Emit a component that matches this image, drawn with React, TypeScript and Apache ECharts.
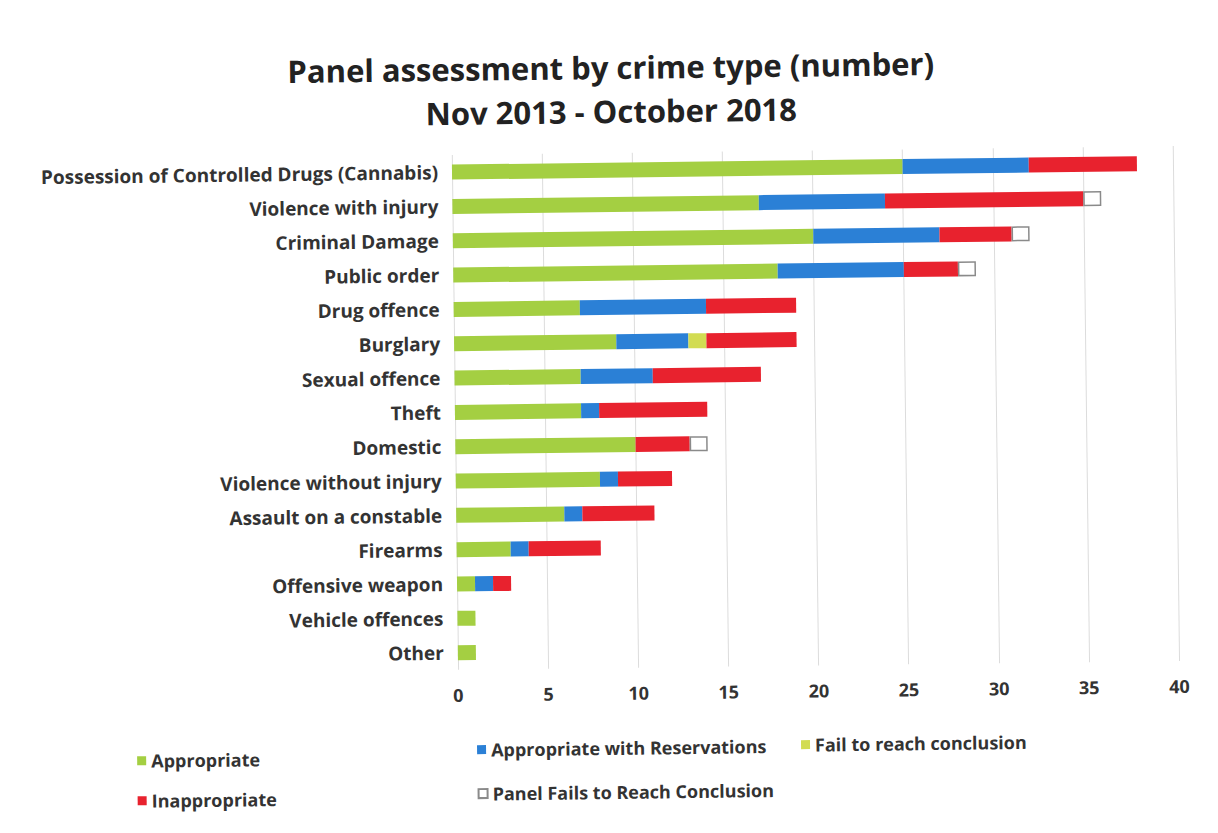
import React, { useEffect, useRef } from "react";
import * as echarts from "echarts";

const categories = [
  "Possession of Controlled Drugs (Cannabis)",
  "Violence with injury",
  "Criminal Damage",
  "Public order",
  "Drug offence",
  "Burglary",
  "Sexual offence",
  "Theft",
  "Domestic",
  "Violence without injury",
  "Assault on a constable",
  "Firearms",
  "Offensive weapon",
  "Vehicle offences",
  "Other",
];

const appropriate = [25, 17, 20, 18, 7, 9, 7, 7, 10, 8, 6, 3, 1, 1, 1];
const withReservations = [7, 7, 7, 7, 7, 4, 4, 1, 0, 1, 1, 1, 1, 0, 0];
const failToReach = [0, 0, 0, 0, 0, 1, 0, 0, 0, 0, 0, 0, 0, 0, 0];
const inappropriate = [6, 11, 4, 3, 5, 5, 6, 6, 3, 3, 4, 4, 1, 0, 0];
const panelFails = [0, 1, 1, 1, 0, 0, 0, 0, 1, 0, 0, 0, 0, 0, 0];

const xTicks = [0, 5, 10, 15, 20, 25, 30, 35, 40];

const FONT = "'Open Sans', 'Noto Sans', sans-serif";

export default function App() {
  const ref = useRef<HTMLDivElement>(null);
  useEffect(() => {
    document.body.style.margin = "0";
    const chart = echarts.init(ref.current!, null, { renderer: "svg" });
    const mk = (name: string, data: number[], color: string, border?: string) => ({
      name,
      type: "bar",
      stack: "total",
      barWidth: 15,
      data: data.map((v) => (v === 0 ? null : v)),
      itemStyle: border
        ? { color, borderColor: border, borderWidth: 1.5 }
        : { color },
    });
    const legendText = { fontFamily: FONT, fontWeight: "bold", fontSize: 18, color: "#333" };
    const legendBase = {
      orient: "horizontal",
      itemWidth: 9,
      itemHeight: 9,
      itemGap: 6,
      textStyle: legendText,
      icon: "rect",
    };
    chart.setOption({
      animation: false,
      backgroundColor: "#ffffff",
      title: {
        text: "Panel assessment by crime type (number)\nNov 2013 - October 2018",
        left: 610,
        textAlign: "center",
        top: 40,
        textStyle: {
          fontFamily: FONT,
          fontWeight: "bold",
          fontSize: 31,
          lineHeight: 44,
          color: "#222",
        },
      },
      legend: [
        { ...legendBase, left: 128, top: 741, data: ["Appropriate"] },
        { ...legendBase, left: 128, top: 781, data: ["Inappropriate"] },
        { ...legendBase, left: 468, top: 734, data: ["Appropriate with Reservations"] },
        { ...legendBase, left: 468, top: 778, data: ["Panel Fails to Reach Conclusion"] },
        { ...legendBase, left: 792, top: 733, data: ["Fail to reach conclusion"] },
      ],
      grid: { left: 455, right: 42, top: 153, bottom: 165, containLabel: false },
      xAxis: {
        type: "value",
        min: 0,
        max: 40,
        interval: 5,
        axisLine: { show: false },
        axisTick: { show: false },
        splitLine: { show: true, lineStyle: { color: "#dcdcdc", width: 1 } },
        axisLabel: {
          margin: 16,
          fontFamily: FONT,
          fontWeight: "bold",
          fontSize: 18,
          color: "#333",
          customValues: xTicks,
        },
      },
      yAxis: {
        type: "category",
        inverse: true,
        data: categories,
        axisLine: { show: false },
        axisTick: { show: false },
        axisLabel: {
          margin: 14,
          fontFamily: FONT,
          fontWeight: "bold",
          fontSize: 19,
          color: "#333",
        },
      },
      series: [
        mk("Appropriate", appropriate, "#a4cf42"),
        mk("Appropriate with Reservations", withReservations, "#2b80d6"),
        mk("Fail to reach conclusion", failToReach, "#d2dc52"),
        mk("Inappropriate", inappropriate, "#e8222e"),
        mk("Panel Fails to Reach Conclusion", panelFails, "#ffffff", "#8a8a8a"),
      ],
    });
    return () => chart.dispose();
  }, []);
  return (
    <div
      ref={ref}
      style={{
        width: 1218,
        height: 833,
        transform: "rotate(-0.7deg)",
        transformOrigin: "50% 50%",
      }}
    />
  );
}
